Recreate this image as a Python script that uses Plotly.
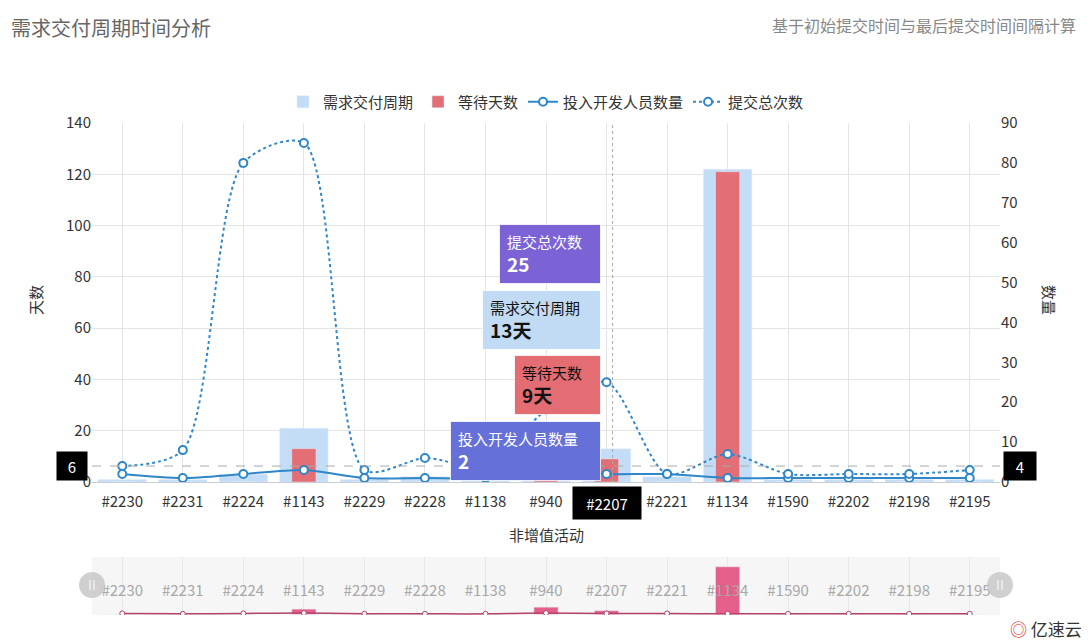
import plotly.graph_objects as go

categories = ["#2230", "#2231", "#2224", "#1143", "#2229", "#2228", "#1138", "#940",
              "#2207", "#2221", "#1134", "#1590", "#2202", "#2198", "#2195"]
delivery_days = [1, 1, 3, 21, 1, 2, 1, 22, 13, 2, 122, 1, 1, 1, 1]
waiting_days = [0, 0, 0, 13, 0, 0, 0, 18, 9, 0, 121, 0, 0, 0, 0]
developers = [2, 1, 2, 3, 1, 1, 1, 3, 2, 2, 1, 1, 1, 1, 1]
commits = [4, 8, 80, 85, 3, 6, 4, 18, 25, 2, 7, 2, 2, 2, 3]
left_ticks = [0, 20, 40, 60, 80, 100, 120, 140]
right_ticks = [0, 10, 20, 30, 40, 50, 60, 70, 80, 90]
hover_cat = "#2207"
pointer_right = 4

FONT = "Noto Sans CJK SC"
LINE = "#2f86c8"
LBLUE = "#c4ddf6"
RED = "#e36e76"

hi = categories.index(hover_cat)
left_max, right_max = left_ticks[-1], right_ticks[-1]
pointer_left = round(pointer_right * left_max / right_max)
tick_text = ["" if c == hover_cat else c for c in categories]

fig = go.Figure()
fig.add_trace(go.Bar(x=categories, y=delivery_days, name="需求交付周期", marker_color=LBLUE,
                     width=0.8, xaxis="x", yaxis="y"))
fig.add_trace(go.Bar(x=categories, y=waiting_days, name="等待天数", marker_color=RED,
                     width=0.4, xaxis="x", yaxis="y"))
fig.add_trace(go.Scatter(x=categories, y=developers, name="投入开发人员数量", mode="lines+markers",
                         line=dict(color=LINE, width=2, shape="spline", smoothing=0.8),
                         marker=dict(symbol="circle", size=8, color="white", line=dict(color=LINE, width=2)),
                         xaxis="x", yaxis="y2"))
fig.add_trace(go.Scatter(x=categories, y=commits, name="提交总次数", mode="lines+markers",
                         line=dict(color=LINE, width=2, dash="dot", shape="spline", smoothing=0.8),
                         marker=dict(symbol="circle", size=8, color="white", line=dict(color=LINE, width=2)),
                         xaxis="x", yaxis="y2"))

# slider (data shadow)
fig.add_trace(go.Bar(x=categories, y=waiting_days, marker_color="#e4608a", width=0.4,
                     showlegend=False, xaxis="x3", yaxis="y3"))
fig.add_trace(go.Scatter(x=categories, y=developers, mode="lines+markers", showlegend=False,
                         line=dict(color="#b5426a", width=1.5, shape="spline"),
                         marker=dict(size=5, color="white", line=dict(color="#b5426a", width=1)),
                         xaxis="x3", yaxis="y3"))
fig.add_trace(go.Scatter(x=categories, y=[56] * len(categories), mode="text", text=categories,
                         textfont=dict(family=FONT, size=15, color="#a8a8a8"), showlegend=False,
                         xaxis="x3", yaxis="y3"))

H_PLOT = 492.0
def py(p):
    return (615 - p) / H_PLOT
def px(p):
    return (p - 92) / 908.0

annotations = [
    dict(text="需求交付周期时间分析", x=px(9), y=py(27), xref="paper", yref="paper", xanchor="left",
         yanchor="middle", showarrow=False, font=dict(family=FONT, size=20, color="#666")),
    dict(text="基于初始提交时间与最后提交时间间隔计算", x=px(1078), y=py(25), xref="paper", yref="paper",
         xanchor="right", yanchor="middle", showarrow=False, font=dict(family=FONT, size=16, color="#888")),
    dict(text="天数", x=px(35), y=py(300), xref="paper", yref="paper", textangle=-90, showarrow=False,
         xanchor="center", yanchor="middle", font=dict(family=FONT, size=15, color="#333")),
    dict(text="数量", x=px(1050), y=py(300), xref="paper", yref="paper", textangle=90, showarrow=False,
         xanchor="center", yanchor="middle", font=dict(family=FONT, size=15, color="#333")),
    dict(text="非增值活动", x=0.5, y=py(534), xref="paper", yref="paper", showarrow=False,
         xanchor="center", yanchor="middle", font=dict(family=FONT, size=15, color="#333")),
    # axis pointer labels
    dict(text=str(pointer_left), x=0, xshift=-4, y=pointer_right, xref="paper", yref="y2", xanchor="right",
         yanchor="middle", showarrow=False, bgcolor="black", width=20, height=18, borderpad=5,
         font=dict(family=FONT, size=15, color="white")),
    dict(text=str(pointer_right), x=1, xshift=3, y=pointer_right, xref="paper", yref="y2", xanchor="left",
         yanchor="middle", showarrow=False, bgcolor="black", width=22, height=18, borderpad=5,
         font=dict(family=FONT, size=15, color="white")),
    dict(text=hover_cat, x=hi, y=py(503), xref="x", yref="paper", xanchor="center", yanchor="middle",
         showarrow=False, bgcolor="black", width=58, height=22, borderpad=5,
         font=dict(family=FONT, size=15, color="white")),
    dict(text="<span style='color:#e0262a'>◎</span> 亿速云", x=px(1084), y=py(628), xref="paper", yref="paper",
         xanchor="right", yanchor="middle", showarrow=False, font=dict(family=FONT, size=17, color="#333")),
]

tips = [
    ("提交总次数", f"{commits[hi]}", "#7b63d5", "white", 86, 254),
    ("需求交付周期", f"{delivery_days[hi]}天", "#c2dbf4", "#111", 103, 320),
    ("等待天数", f"{waiting_days[hi]}天", "#e46d74", "#111", 71, 385),
    ("投入开发人员数量", f"{developers[hi]}", "#6570d8", "white", 135, 451),
]
for title, val, bg, fc, w, yc in tips:
    annotations.append(dict(
        text=f"<span style='font-size:15px'>{title}</span><br><b>{val}</b>",
        x=hi, xshift=-6, y=py(yc), xref="x", yref="paper", xanchor="right", yanchor="middle",
        showarrow=False, bgcolor=bg, bordercolor="rgba(255,255,255,0.8)", borderwidth=1, borderpad=7,
        width=w, height=44, align="left", font=dict(family=FONT, size=19, color=fc)))

shapes = [
    dict(type="rect", xref="x3 domain", yref="y3 domain", x0=0, x1=1, y0=0, y1=1,
         fillcolor="#f6f6f6", line=dict(width=0), layer="below"),
    dict(type="line", xref="paper", yref="y2", x0=0, x1=1, y0=pointer_right, y1=pointer_right,
         line=dict(color="#aaa", width=1, dash="dash")),
    dict(type="line", xref="x", yref="y", x0=hi + 0.1, x1=hi + 0.1, y0=0, y1=left_max,
         line=dict(color="#aaa", width=1, dash="dot")),
]
for xa in (0, 1):
    shapes.append(dict(type="circle", xref="paper", yref="paper", xsizemode="pixel", ysizemode="pixel",
                       xanchor=xa, yanchor=py(585), x0=-13, x1=13, y0=-13, y1=13,
                       fillcolor="rgba(200,200,200,0.85)", line=dict(width=0)))
    for dx in (-2, 2):
        shapes.append(dict(type="line", xref="paper", yref="paper", xsizemode="pixel", ysizemode="pixel",
                           xanchor=xa, yanchor=py(585), x0=dx, x1=dx, y0=-5, y1=5,
                           line=dict(color="white", width=1)))

fig.update_layout(
    width=1090, height=641,
    margin=dict(l=92, r=90, t=123, b=26, autoexpand=False),
    paper_bgcolor="white", plot_bgcolor="white",
    barmode="overlay", hovermode=False,
    font=dict(family=FONT, size=15, color="#333"),
    legend=dict(orientation="h", x=0.5, xanchor="center", y=py(102), yanchor="middle",
                font=dict(family=FONT, size=15, color="#333"), itemwidth=30, bgcolor="rgba(0,0,0,0)"),
    xaxis=dict(domain=[0, 1], anchor="y", type="category", range=[-0.5, len(categories) - 0.5],
               tickmode="array", tickvals=categories, ticktext=tick_text,
               showgrid=True, gridcolor="#e4e4e4", showline=True, linecolor="#c8ccd4",
               ticks="outside", ticklen=6, tickcolor="rgba(0,0,0,0)",
               tickfont=dict(family=FONT, size=15, color="#333")),
    yaxis=dict(domain=[py(482), 1], anchor="x", range=[0, left_max], tickvals=left_ticks,
               showgrid=True, gridcolor="#e4e4e4", zeroline=False, showline=False,
               tickfont=dict(family=FONT, size=15, color="#333")),
    yaxis2=dict(overlaying="y", side="right", anchor="x", range=[0, right_max], tickvals=right_ticks,
                showgrid=False, zeroline=False, showline=False,
                tickfont=dict(family=FONT, size=15, color="#333")),
    xaxis3=dict(domain=[0, 1], anchor="y3", type="category", range=[-0.5, len(categories) - 0.5],
                showgrid=True, gridcolor="#e8e8e8", showticklabels=False, showline=False, zeroline=False),
    yaxis3=dict(domain=[0, py(557)], anchor="x3", range=[-2, 146], showgrid=False,
                showticklabels=False, zeroline=False, showline=False),
    annotations=annotations,
    shapes=shapes,
)

fig.write_html("out.html", config={"displayModeBar": False},
               post_script="document.body.style.margin='0';document.body.style.padding='0';")
